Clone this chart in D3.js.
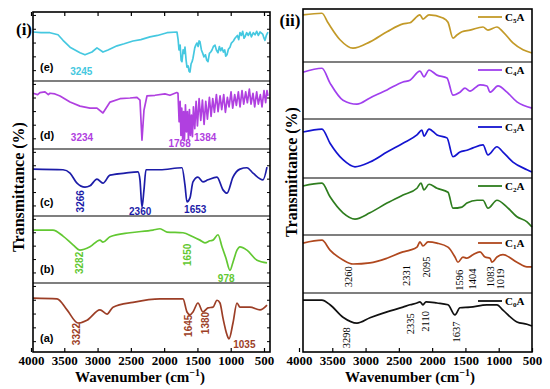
<!DOCTYPE html>
<html>
<head>
<meta charset="utf-8">
<script src="https://d3js.org/d3.v7.min.js"></script>
<style>
  body { margin: 0; background: #fff; }
  svg { display: block; }
</style>
</head>
<body>
<svg width="550" height="389"></svg>
<script>
// spectra: [wavenumber, relative transmittance 0-100 within its strip]
var specA = [[3970,78],[3609,77],[3459,61],[3294,42],[3159,46],[2964,61],[2858,55],[2768,65],[2468,72],[2062,77],[1717,77],[1657,58],[1612,54],[1567,58],[1492,71],[1417,58],[1341,64],[1266,65],[1206,75],[1161,71],[1116,49],[1056,25],[1026,19],[966,42],[906,71],[861,65],[711,65],[560,61],[455,68]];
var specB = [[3970,79],[3670,79],[3519,70],[3369,57],[3264,49],[3114,54],[2964,64],[2919,61],[2813,69],[2513,75],[2167,79],[2062,81],[1957,76],[1717,75],[1567,69],[1462,64],[1387,60],[1311,63],[1266,64],[1191,72],[1131,54],[1071,37],[1011,19],[966,31],[906,49],[861,54],[756,49],[605,34],[455,30]];
var specC = [[3970,70],[3519,69],[3414,64],[3309,49],[3189,43],[3114,45],[3009,55],[2919,49],[2813,61],[2588,64],[2393,66],[2363,54],[2333,13],[2303,39],[2273,69],[2062,69],[1732,72],[1687,46],[1657,21],[1612,27],[1567,51],[1492,58],[1417,51],[1341,54],[1206,58],[1116,39],[1056,34],[966,58],[861,70],[756,72],[665,64],[515,54],[455,73]];
var specD = [[3970,82],[3900,80],[3865,83],[3790,84],[3740,80],[3715,82],[3640,81],[3564,78],[3414,69],[3264,63],[3114,60],[3009,60],[2919,53],[2813,69],[2663,74],[2513,75],[2408,76],[2363,72],[2333,13],[2303,57],[2258,78],[2138,79],[1988,81],[1913,79],[1810,83],[1792,82],
  [1775,40],[1760,70],[1748,20],[1735,60],[1722,15],[1708,55],[1695,12],[1680,65],[1665,25],[1650,55],[1635,14],[1620,58],[1605,20],[1590,50],[1575,18],[1560,62],[1540,30],[1520,70],[1500,34],[1475,74],[1450,42],[1425,72],[1400,36],[1375,70],[1350,44],[1320,76],[1295,48],[1270,74],[1245,54],[1215,80],[1190,55],[1160,78],[1135,58],[1105,80],[1080,54],[1050,76],[1025,62],[995,84],[970,60],[940,80],[915,64],[885,84],[860,62],[830,86],[805,66],[775,84],[750,68],[720,88],[695,66],[665,82],[640,62],[610,84],[585,66],[555,80],[530,62],[500,86],[475,68],[455,86],[440,78]];
var specE = [[3970,71],[3850,70],[3715,70],[3594,67],[3519,59],[3414,49],[3264,41],[3189,38],[3084,42],[3009,48],[2919,42],[2843,45],[2708,51],[2600,54],[2468,58],[2350,60],[2213,64],[2100,66],[1957,70],[1807,71],[1790,60],[1777,45],[1760,52],[1745,30],[1732,28],[1715,45],[1700,40],[1687,49],[1670,30],[1657,20],[1640,22],[1625,14],[1612,13],[1595,25],[1580,28],[1567,33],[1540,48],[1525,52],[1507,55],[1490,50],[1475,58],[1462,57],[1440,45],[1420,40],[1402,35],[1380,38],[1360,30],[1341,28],[1320,40],[1300,42],[1281,45],[1260,50],[1236,52],[1215,45],[1191,41],[1170,50],[1150,44],[1131,48],[1110,42],[1090,45],[1075,36],[1056,38],[1035,46],[1011,49],[990,55],[960,58],[936,62],[900,66],[880,60],[861,70],[840,66],[820,72],[800,62],[786,64],[760,70],[735,66],[711,71],[690,64],[660,70],[635,67],[610,72],[585,66],[560,71],[520,68],[500,62],[485,59],[465,66],[440,71]];

var specC5 = [[3940,89],[3655,92],[3564,74],[3384,42],[3189,26],[2934,38],[2678,57],[2438,72],[2333,74],[2183,89],[2138,81],[2047,89],[1837,83],[1762,75],[1687,45],[1627,51],[1552,57],[1432,60],[1236,66],[1161,60],[1026,66],[936,57],[786,36],[635,23],[500,17]];
var specC4 = [[3940,82],[3655,89],[3534,63],[3339,33],[3129,26],[2934,37],[2678,51],[2438,65],[2333,68],[2183,84],[2123,74],[2047,86],[1927,77],[1777,72],[1687,42],[1582,47],[1507,54],[1432,49],[1281,60],[1176,58],[1131,47],[1011,58],[876,47],[726,30],[500,19]];
var specC3 = [[3940,78],[3655,83],[3534,59],[3339,31],[3159,19],[2934,27],[2678,44],[2438,59],[2228,73],[2153,81],[2123,71],[2047,83],[1927,73],[1777,68],[1687,36],[1582,44],[1477,47],[1387,51],[1236,56],[1161,39],[1026,53],[936,44],[786,27],[575,14],[500,10]];
var specC2 = [[3940,86],[3655,91],[3534,67],[3339,39],[3159,28],[2934,39],[2678,56],[2438,70],[2228,82],[2168,91],[2123,79],[2047,89],[1927,82],[1762,75],[1687,47],[1552,49],[1477,56],[1326,61],[1236,61],[1161,47],[1026,61],[876,49],[726,32],[575,23],[500,14]];
var specC1 = [[3940,86],[3655,91],[3534,74],[3339,57],[3189,50],[2934,52],[2678,60],[2438,71],[2333,74],[2228,79],[2183,88],[2138,81],[2062,88],[1927,86],[1762,79],[1657,62],[1612,53],[1537,62],[1477,60],[1387,66],[1281,71],[1206,62],[1131,60],[1101,53],[1026,62],[936,66],[726,53],[575,45],[500,45]];
var specC0 = [[3940,88],[3655,88],[3534,80],[3339,59],[3129,49],[2934,58],[2678,68],[2438,76],[2333,80],[2228,83],[2183,85],[2138,80],[2092,85],[1927,83],[1762,80],[1657,63],[1582,75],[1432,76],[1176,80],[1026,80],[936,71],[726,51],[575,47],[500,44]];

var xTicks = [4000,3500,3000,2500,2000,1500,1000,500];
var leftNames = ["(e)","(d)","(c)","(b)","(a)"];
var rightNames = ["C5A","C4A","C3A","C2A","C1A","C0A"];

var svg = d3.select("svg");
var serif = "'Liberation Serif', 'Times New Roman', serif";
var sans = "'Liberation Sans', Arial, sans-serif";

// ---------- left figure (i) ----------
var L = {left:33, right:270, top:12, bottom:352};
var xL = d3.scaleLinear().domain([4000,500]).range([31,264]);
var leftEdges = [12,81,149,216,283,352];
var leftSeries = [
  {data:specE, color:"#45c8e0", curve:d3.curveLinear},
  {data:specD, color:"#b040e0", curve:d3.curveLinear},
  {data:specC, color:"#1c1ca8", curve:d3.curveMonotoneX},
  {data:specB, color:"#62c832", curve:d3.curveMonotoneX},
  {data:specA, color:"#9c3e26", curve:d3.curveMonotoneX}
];

// ---------- right figure (ii) ----------
var R = {left:303, right:532, top:9, bottom:352};
var xR = d3.scaleLinear().domain([4000,500]).range([299,532]);
var rightEdges = [9,62,119,178,235,293,352];
var rightSeries = [
  {data:specC5, color:"#c39a28"},
  {data:specC4, color:"#a040ee"},
  {data:specC3, color:"#1414d0"},
  {data:specC2, color:"#2e7d1e"},
  {data:specC1, color:"#b0481e"},
  {data:specC0, color:"#111111"}
];

function drawStrips(edges, series, x, box, inner) {
  series.forEach(function(s, i){
    var y = d3.scaleLinear().domain([0,100]).range([edges[i+1], edges[i]]);
    s.y = y;
    var line = d3.line()
      .x(function(d){ return x(d[0]); })
      .y(function(d){ return y(d[1]); })
      .curve(s.curve || d3.curveMonotoneX);
    svg.append("path")
      .datum(s.data)
      .attr("d", line)
      .attr("fill","none")
      .attr("stroke", s.color)
      .attr("stroke-width", 1.7)
      .attr("stroke-linejoin","round");
    if (inner) {
      // small inward y ticks on both sides
      var yt = [15,35,55,75,95];
      yt.forEach(function(v){
        svg.append("line").attr("x1",box.left).attr("x2",box.left+3)
          .attr("y1",y(v)).attr("y2",y(v)).attr("stroke","#000").attr("stroke-width",1);
        svg.append("line").attr("x1",box.right-3).attr("x2",box.right)
          .attr("y1",y(v)).attr("y2",y(v)).attr("stroke","#000").attr("stroke-width",1);
      });
    }
  });
  // separators
  edges.slice(1,-1).forEach(function(e){
    svg.append("line").attr("x1",box.left).attr("x2",box.right)
      .attr("y1",e).attr("y2",e).attr("stroke","#000").attr("stroke-width",1.2);
  });
  svg.append("rect").attr("x",box.left).attr("y",box.top)
    .attr("width",box.right-box.left).attr("height",box.bottom-box.top)
    .attr("fill","none").attr("stroke","#000").attr("stroke-width",1.6);

  // bottom axis
  var ax = svg.append("g").attr("transform","translate(0,"+box.bottom+")")
    .call(d3.axisBottom(x).tickValues(xTicks).tickFormat(d3.format("d")).tickSize(-4).tickPadding(4));
  ax.select(".domain").remove();
  ax.selectAll("line").attr("stroke","#000").attr("stroke-width",1.2);
  ax.selectAll("text").attr("font-family",serif).attr("font-weight","bold")
    .attr("font-size",13).attr("fill","#000");
  if (inner) {
    var at = svg.append("g").attr("transform","translate(0,"+box.top+")")
      .call(d3.axisTop(x).tickValues(xTicks).tickSize(-4).tickFormat(""));
    at.select(".domain").remove();
    at.selectAll("line").attr("stroke","#000").attr("stroke-width",1.2);
  }
}

drawStrips(leftEdges, leftSeries, xL, L, true);
drawStrips(rightEdges, rightSeries, xR, R, false);

// strip letters (left)
leftNames.forEach(function(n, i){
  svg.append("text").attr("x",40).attr("y",leftEdges[i+1]-10)
    .attr("font-family",sans).attr("font-weight","bold").attr("font-size",11)
    .text(n);
});

// legends (right)
rightNames.forEach(function(n, i){
  var yy = rightEdges[i] + 8;
  svg.append("line").attr("x1",478).attr("x2",502).attr("y1",yy).attr("y2",yy)
    .attr("stroke",rightSeries[i].color).attr("stroke-width",1.8);
  var t = svg.append("text").attr("x",505).attr("y",yy+4)
    .attr("font-family",serif).attr("font-weight","bold").attr("font-size",11);
  t.append("tspan").text(n[0]);
  t.append("tspan").attr("font-size",7).attr("dy",2).text(n[1]);
  t.append("tspan").attr("dy",-2).text(n[2]);
});

// peak labels, left figure: [series index, wavenumber, value, text, rotated, dx]
var leftPeaks = [
  [0,3245,8,"3245",false,0],
  [1,3234,12,"3234",false,0],
  [1,1768,3,"1768",false,0],
  [1,1384,12,"1384",false,0],
  [2,3266,22,"3266",true,0],
  [2,2360,2,"2360",false,0],
  [2,1653,4,"1653",false,8],
  [3,3282,30,"3282",true,0],
  [3,1650,42,"1650",true,0],
  [3,978,2,"978",false,-6],
  [4,3322,26,"3322",true,0],
  [4,1645,38,"1645",true,0],
  [4,1380,42,"1380",true,0],
  [4,1035,6,"1035",false,16]
];
leftPeaks.forEach(function(p){
  var s = leftSeries[p[0]];
  var px = xL(p[1]) + p[5], py = s.y(p[2]);
  var t = svg.append("text").attr("font-family",sans).attr("font-weight","bold")
    .attr("font-size",10).attr("fill",s.color).text(p[3]);
  if (p[4]) {
    t.attr("transform","translate("+(px+4)+","+py+") rotate(-90)").attr("text-anchor","middle");
  } else {
    t.attr("x",px).attr("y",py).attr("text-anchor","middle");
  }
});

// peak labels, right figure (vertical, black serif): [series, wavenumber, value, text, dx]
var rightPeaks = [
  [4,3260,28,"3260",0],
  [4,2331,30,"2331",-4],
  [4,2095,45,"2095",0],
  [4,1596,22,"1596",0],
  [4,1404,24,"1404",0],
  [4,1083,28,"1083",-3],
  [4,1019,24,"1019",3],
  [5,3298,24,"3298",0],
  [5,2335,48,"2335",0],
  [5,2110,52,"2110",0],
  [5,1637,34,"1637",0]
];
rightPeaks.forEach(function(p){
  var s = rightSeries[p[0]];
  var px = xR(p[1]) + p[4], py = s.y(p[2]);
  svg.append("text").attr("font-family",serif).attr("font-size",10.5)
    .attr("fill","#000").attr("text-anchor","middle")
    .attr("transform","translate("+(px+4)+","+py+") rotate(-90)")
    .text(p[3]);
});

// titles
function xTitle(cx) {
  var t = svg.append("text").attr("x",cx).attr("y",382).attr("text-anchor","middle")
    .attr("font-family",serif).attr("font-weight","bold").attr("font-size",15);
  t.append("tspan").text("Wavenumber (cm");
  t.append("tspan").attr("font-size",10).attr("dy",-6).text("\u22121");
  t.append("tspan").attr("dy",6).text(")");
}
xTitle(140);
xTitle(410);

function yTitle(cx, cy) {
  svg.append("text").attr("transform","translate("+cx+","+cy+") rotate(-90)")
    .attr("text-anchor","middle").attr("font-family",serif).attr("font-weight","bold")
    .attr("font-size",16).text("Transmittance (%)");
}
yTitle(24, 187);
yTitle(297, 172);

svg.append("text").attr("x",24).attr("y",35).attr("text-anchor","middle")
  .attr("font-family",serif).attr("font-weight","bold").attr("font-size",17).text("(i)");
svg.append("text").attr("x",290).attr("y",26).attr("text-anchor","middle")
  .attr("font-family",serif).attr("font-weight","bold").attr("font-size",17).text("(ii)");
</script>
</body>
</html>
